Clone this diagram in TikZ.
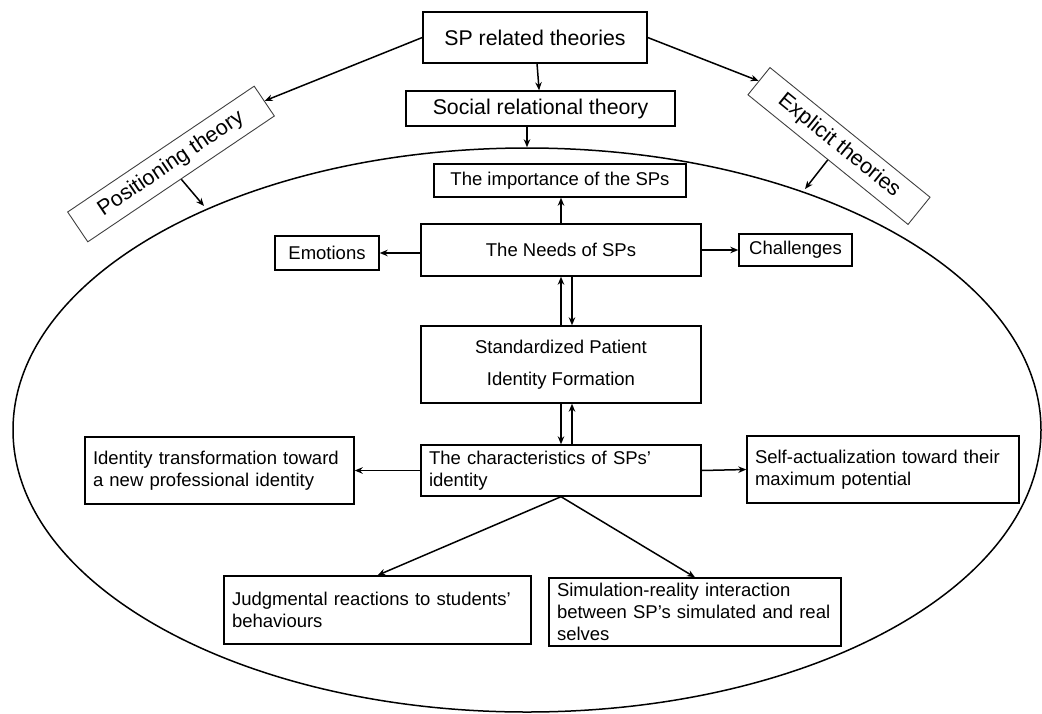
\documentclass[tikz,border=0pt]{standalone}
\usepackage{fontspec}
\setmainfont{Liberation Sans}
\usetikzlibrary{arrows.meta,shapes.geometric}
\begin{document}
\begin{tikzpicture}[x=1pt,y=-1pt,
  box/.style={draw, line width=1.4pt, inner sep=0pt, font=\fontsize{18.5}{21.7}\selectfont},
  lbox/.style={box, inner xsep=8pt, inner ysep=1pt, align=left},
  big/.style={font=\fontsize{21.3}{25}\selectfont},
  tilt/.style={draw=black!75, line width=0.9pt, inner sep=0pt, font=\fontsize{21.5}{25}\selectfont},
  arr/.style={line width=1.5pt, -{Stealth[length=8pt,width=6.5pt]}}]
\useasboundingbox (0,0) rectangle (1042,713);
\node[draw, ellipse, line width=1.5pt, inner sep=0pt, minimum width=1028, minimum height=564] (oval) at (527,430){};
\coordinate (e0) at (204,206);
\coordinate (e1) at (805,189);
\node[box, big, minimum width=224, minimum height=51] (bx0) at (535,37.5){SP related theories};
\node[box, big, minimum width=269, minimum height=35] (bx1) at (540.5,108.5){Social relational theory};
\draw[arr](bx0) -- (bx1);
\draw[arr](bx1.south -| oval.north) -- (oval.north);
\node[tilt, rotate=34, minimum width=225, minimum height=36] (bx2) at (171,164){Positioning theory};
\node[tilt, rotate=-39, minimum width=206, minimum height=35] (bx3) at (839,146){Explicit theories};
\draw[arr](bx0.west) -- (bx2.east);
\draw[arr](bx0.east) -- (bx3.west);
\draw[arr](bx2.south) -- (e0);
\draw[arr](bx3.south) -- (e1);
\node[box, minimum width=252, minimum height=33] (bx4) at (560,180.5){The importance of the SPs};
\node[box, minimum width=280, minimum height=52] (bx5) at (561,250){The Needs of SPs};
\node[box, minimum width=104, minimum height=34] (bx6) at (327,253){Emotions};
\node[box, minimum width=113, minimum height=32] (bx7) at (795.5,250){Challenges};
\draw[arr](bx5.north) -- (bx5.north |- bx4.south);
\draw[arr](bx5.west |- bx6.east) -- (bx6.east);
\draw[arr](bx5.east) -- (bx7.west);
\node[box, align=center, font=\fontsize{18.5}{32}\selectfont, minimum width=280, minimum height=77] (bx8) at (561,364.5){Standardized Patient\\Identity Formation};
\draw[arr](bx8.north) -- (bx5.south);
\draw[arr]([xshift=11]bx5.south) -- ([xshift=11]bx8.north);
\node[lbox, text width=264, minimum height=51] (bx9) at (561,470.5){The characteristics of SPs'\\identity};
\draw[arr](bx8.south) -- (bx9.north);
\draw[arr]([xshift=11]bx9.north) -- ([xshift=11]bx8.south);
\node[lbox, text width=253, minimum height=67] (bx10) at (219.5,470.5){Identity transformation toward\\a new professional identity};
\node[lbox, text width=256, minimum height=67] (bx11) at (883,469.5){Self-actualization toward their\\maximum potential};
\draw[arr](bx9.west) -- (bx10.east);
\draw[arr](bx9.east) -- (bx11.west);
\node[lbox, text width=291, minimum height=68] (bx12) at (377.5,610){Judgmental reactions to students'\\behaviours};
\node[lbox, text width=276, minimum height=68] (bx13) at (695,612){Simulation-reality interaction\\between SP's simulated and real\\selves};
\draw[arr](bx9.south) -- (bx12.north);
\draw[arr](bx9.south) -- (bx13.north);
\end{tikzpicture}
\end{document}
